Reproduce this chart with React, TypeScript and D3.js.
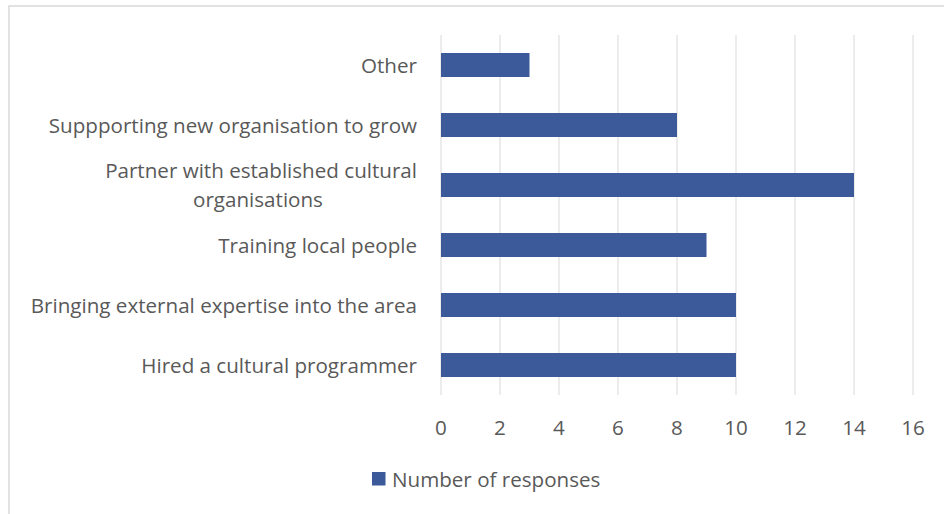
import React from "react";
import * as d3 from "d3";

const categories = [
  "Other",
  "Suppporting new organisation to grow",
  "Partner with established cultural organisations",
  "Training local people",
  "Bringing external expertise into the area",
  "Hired a cultural programmer",
];
const values = [3, 8, 14, 9, 10, 10];
const xTicks = [0, 2, 4, 6, 8, 10, 12, 14, 16];
const seriesName = "Number of responses";

const labelLines: Record<string, string[]> = {
  "Partner with established cultural organisations": ["Partner with established cultural", "organisations"],
};

const W = 944;
const H = 514;
const FONT = "'Open Sans', Lato, sans-serif";
const FS = 20.6;
const TEXT = "#595959";
const BAR = "#3C5A99";
const GRID = "#D9D9D9";

export default function App() {
  const x = d3.scaleLinear().domain([0, 16]).range([441, 913]);
  const y = d3.scaleBand().domain(categories).range([35, 395]).paddingInner(0.6).paddingOuter(0.3);
  const bw = y.bandwidth();
  return (
    <svg width={W} height={H} style={{ position: "absolute", left: 0, top: 0, display: "block" }}>
      <rect x={0} y={0} width={W} height={H} fill="#fff" />
      <rect x={9} y={6} width={W + 10} height={H + 10} fill="#fff" stroke={GRID} strokeWidth={1.5} />
      {xTicks.map((t) => (
        <line key={t} x1={x(t)} x2={x(t)} y1={35} y2={395} stroke={GRID} strokeWidth={1} />
      ))}
      {categories.map((c, i) => (
        <rect key={c} x={x(0)} y={y(c)!} width={x(values[i]) - x(0)} height={bw} fill={BAR} />
      ))}
      {categories.map((c) => {
        const cy = y(c)! + bw / 2;
        const lines = labelLines[c];
        if (lines) {
          return (
            <g key={c} fontFamily={FONT} fontSize={FS} fill={TEXT}>
              <text x={417} y={cy - 15} textAnchor="end" dominantBaseline="central">{lines[0]}</text>
              <text x={258} y={cy + 14} textAnchor="middle" dominantBaseline="central">{lines[1]}</text>
            </g>
          );
        }
        return (
          <text key={c} x={417} y={cy} textAnchor="end" dominantBaseline="central" fontFamily={FONT} fontSize={FS} fill={TEXT}>
            {c}
          </text>
        );
      })}
      {xTicks.map((t) => (
        <text key={"l" + t} x={x(t)} y={427} textAnchor="middle" dominantBaseline="central" fontFamily={FONT} fontSize={FS} fill={TEXT}>
          {t}
        </text>
      ))}
      <rect x={372} y={472} width={13.5} height={13.5} fill={BAR} />
      <text x={392} y={479} dominantBaseline="central" fontFamily={FONT} fontSize={FS} fill={TEXT}>
        {seriesName}
      </text>
    </svg>
  );
}
